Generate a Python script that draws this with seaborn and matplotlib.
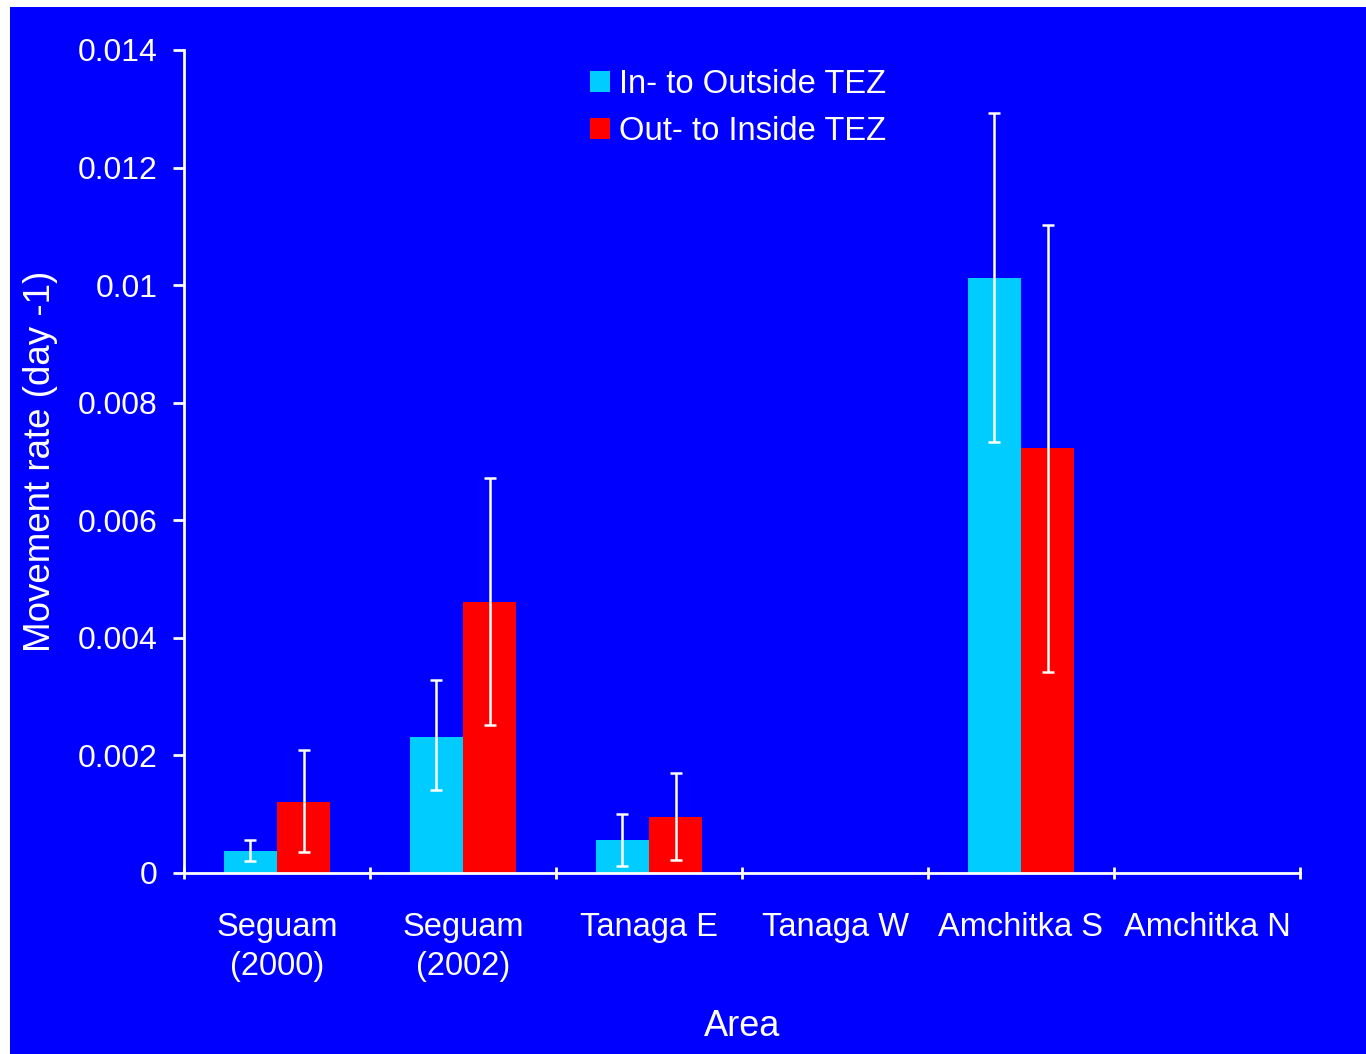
import matplotlib
matplotlib.use("Agg")
import matplotlib.pyplot as plt
import pandas as pd
import seaborn as sns
from matplotlib.patches import Rectangle
from matplotlib.ticker import FuncFormatter, FixedLocator

BLUE = "#0000FF"
CYAN = "#00CCFF"
RED = "#FF0000"

areas = ["Seguam\n(2000)", "Seguam\n(2002)", "Tanaga E", "Tanaga W", "Amchitka S", "Amchitka N"]
directions = ["In- to Outside TEZ", "Out- to Inside TEZ"]

# movement rates (day -1)
in_to_out = [0.00037, 0.00231, 0.00056, 0.0, 0.01012, 0.0]
out_to_in = [0.00121, 0.00461, 0.00095, 0.0, 0.00723, 0.0]

# error bar ends (low / high); None where no bar is shown
in_to_out_low = [0.00020, 0.00141, 0.00012, None, 0.00733, None]
in_to_out_high = [0.00056, 0.00328, 0.00100, None, 0.01293, None]
out_to_in_low = [0.00036, 0.00252, 0.00022, None, 0.00342, None]
out_to_in_high = [0.00209, 0.00672, 0.00170, None, 0.01102, None]

sns.set_style("ticks")
plt.rcParams["font.family"] = ["Liberation Sans", "DejaVu Sans"]
plt.rcParams["text.color"] = "white"
plt.rcParams["axes.labelcolor"] = "white"

df = pd.DataFrame({
    "Area": areas * 2,
    "Rate": in_to_out + out_to_in,
    "Direction": [directions[0]] * len(areas) + [directions[1]] * len(areas),
})

fig = plt.figure(figsize=(13.66, 10.54), dpi=100)
fig.patch.set_facecolor("white")
fig.patches.append(Rectangle((10 / 1366, 0), 1, 1 - 7 / 1054, transform=fig.transFigure,
                             facecolor=BLUE, edgecolor="none", zorder=-1))

ax = fig.add_axes([184 / 1366, 181 / 1054, 1116 / 1366, 823 / 1054])
ax.set_facecolor("none")

sns.barplot(data=df, x="Area", y="Rate", hue="Direction", hue_order=directions,
            palette=[CYAN, RED], saturation=1, width=0.57, gap=0, errorbar=None,
            linewidth=0, ax=ax)

# error bars on top of the seaborn bars
err_sets = [(in_to_out_low, in_to_out_high), (out_to_in_low, out_to_in_high)]
for container, (lows, highs) in zip(ax.containers, err_sets):
    for bar, lo, hi in zip(container, lows, highs):
        if lo is None:
            continue
        x = bar.get_x() + bar.get_width() / 2
        y = bar.get_height()
        ax.errorbar(x, y, yerr=[[y - lo], [hi - y]], fmt="none", ecolor="white",
                    elinewidth=1.8, capsize=4.5, capthick=1.8, zorder=5)

ax.set_ylim(0, 0.014)
ax.set_xlim(-0.5, len(areas) - 0.5)
ax.yaxis.set_major_locator(FixedLocator([i * 0.002 for i in range(8)]))
ax.yaxis.set_major_formatter(FuncFormatter(lambda v, p: f"{v:g}"))

# ticks at category boundaries, labels at category centres
ax.set_xticks([i - 0.5 for i in range(len(areas) + 1)])
ax.set_xticklabels([])
ax.set_xticks(range(len(areas)), minor=True)
ax.set_xticklabels(areas, minor=True, fontsize=23.5, color="white", linespacing=1.32)
ax.tick_params(axis="x", which="minor", length=0, pad=28)
ax.tick_params(axis="x", which="major", length=9, width=2, color="white", direction="inout")
ax.tick_params(axis="y", length=8, width=2, color="white", labelsize=23,
               labelcolor="white", pad=11)

for side in ["top", "right"]:
    ax.spines[side].set_visible(False)
for side in ["left", "bottom"]:
    ax.spines[side].set_color("white")
    ax.spines[side].set_linewidth(2)

ax.set_xlabel("Area", fontsize=26, labelpad=20)
ax.set_ylabel("Movement rate (day -1)", fontsize=26.5, labelpad=14)

ax.legend(loc="upper left", bbox_to_anchor=(590 / 1366, 1 - 69 / 1054),
          bbox_transform=fig.transFigure, frameon=False, fontsize=23.6,
          handlelength=0.6, handleheight=0.6, handletextpad=0.28,
          labelspacing=0.5, borderpad=0, borderaxespad=0, title=None)

fig.savefig("out.png", dpi=100, facecolor=fig.get_facecolor())
